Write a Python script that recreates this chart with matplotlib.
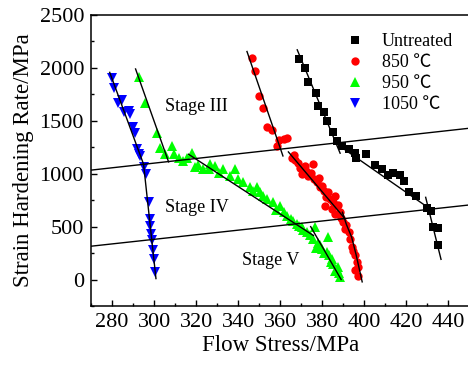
import matplotlib
matplotlib.use("Agg")
import matplotlib.pyplot as plt
from matplotlib.ticker import MultipleLocator

plt.rcParams['font.family'] = ['Liberation Serif', 'Noto Sans CJK SC', 'DejaVu Sans']
plt.rcParams['mathtext.fontset'] = 'stix'

# ---- data (flow stress MPa, strain hardening rate MPa) ----
untreated_x = [369.0, 371.9, 373.4, 377.1, 378.2, 380.6, 382.2, 385.0, 386.9, 389.6,
               392.5, 395.6, 396.1, 400.7, 405.1, 408.3, 411.5, 413.8, 417.0, 419.1,
               421.3, 424.5, 429.7, 431.8, 432.9, 434.9, 434.9]
untreated_y = [2083, 1999, 1864, 1764, 1638, 1582, 1497, 1394, 1309, 1262,
               1238, 1194, 1144, 1184, 1081, 1043, 987, 1006, 987, 933,
               824, 792, 674, 651, 495, 486, 322]

t850_x = [346.5, 348.1, 350.0, 351.8, 353.7, 356.0, 358.4, 361.6, 363.2, 359.5,
          365.6, 368.7, 371.9, 375.8, 370.3, 373.4, 377.4, 379.8, 380.6, 382.9,
          386.1, 381.4, 384.6, 386.1, 388.5, 390.1, 390.9, 392.5, 393.3, 394.1,
          395.6, 396.4, 395.6, 397.1, 367.0, 374.5, 378.5, 383.5, 387.5, 389.0,
          391.5, 394.8, 396.8, 385.0, 366.5, 369.5, 372.5, 376.0, 379.0, 381.8]
t850_y = [2093, 1967, 1732, 1623, 1444, 1413, 1262, 1332, 1341, 1316,
          1153, 1106, 1074, 1090, 996, 980, 918, 886, 839, 824,
          792, 698, 667, 620, 636, 542, 479, 448, 385, 307,
          228, 166, 87, 38, 1130, 1010, 960, 760, 700, 580,
          520, 270, 120, 730, 1180, 1050, 1030, 950, 870, 780]

t950_x = [292.6, 295.8, 301.4, 303.0, 305.3, 308.5, 309.3, 311.7, 315.6, 318.0,
          319.6, 323.5, 326.7, 329.1, 333.0, 338.6, 336.2, 342.5, 345.7, 348.9,
          350.5, 353.7, 356.8, 360.0, 361.6, 363.2, 366.3, 367.9, 370.3, 372.7,
          376.6, 375.8, 379.0, 382.9, 382.2, 384.6, 386.9, 388.5, 388.0, 385.0,
          383.0, 380.0, 378.0, 374.0, 371.0, 369.0, 365.0, 358.0, 352.0, 347.0,
          340.0, 331.0, 326.0, 321.0, 314.0, 387.5, 386.0, 384.0, 381.0, 377.0]
t950_y = [1914, 1670, 1388, 1247, 1184, 1262, 1184, 1153, 1153, 1200,
          1059, 1043, 1090, 1074, 1043, 1043, 980, 918, 871, 871,
          824, 761, 730, 698, 636, 604, 557, 526, 495, 448,
          495, 385, 322, 401, 260, 197, 103, 25, 60, 150,
          230, 290, 350, 420, 470, 510, 570, 660, 790, 840,
          950, 1010, 1040, 1080, 1120, 120, 80, 170, 250, 300]

t1050_x = [280.0, 281.1, 282.7, 284.8, 285.5, 287.9, 288.7, 290.0, 291.1, 291.9,
           292.6, 293.5, 295.4, 296.3, 297.4, 297.9, 298.2, 298.7, 299.0, 299.5,
           300.1, 300.6]
t1050_y = [1905, 1811, 1670, 1701, 1582, 1591, 1560, 1444, 1388, 1231,
           1184, 1168, 1059, 996, 730, 573, 510, 432, 369, 275,
           197, 72]

# fitted stage lines (x pairs, y pairs)
fit_lines_x = [[368.1, 388.5], [387.1, 432.7], [429.2, 436.5],
               [344.2, 361.3], [363.9, 390.9], [389.6, 391.5, 394.0, 396.1, 399.0],
               [291.2, 306.9], [316.4, 375.8], [374.5, 389.0],
               [278.9, 295.0, 300.9]]
fit_lines_y = [[2171, 1194], [1278, 648], [777, 191],
               [2155, 1168], [1206, 573], [636, 520, 400, 235, -22],
               [1990, 1112], [1184, 416], [500, 0],
               [1958, 1090, 9]]

# stage boundary lines
boundary_x = [[270, 450], [270, 450]]
boundary_y = [[1034, 1430], [315, 705]]

stage_labels = ['Stage III', 'Stage IV', 'Stage V']
stage_pos_x = [305.4, 305.4, 341.9]
stage_pos_y = [1632, 683, 182]

fig = plt.figure(figsize=(4.68, 3.65), dpi=100)
ax = fig.add_axes([91 / 468, 59 / 365, (469.4 - 91) / 468, 291 / 365])

ax.plot(untreated_x, untreated_y, 's', color='black', ms=5.2, mew=0, label='Untreated')
ax.plot(t850_x, t850_y, 'o', color='red', ms=6.0, mew=0, label='850 ℃')
ax.plot(t950_x, t950_y, '^', color='#00ff00', ms=6.5, mew=0, label='950 ℃')
ax.plot(t1050_x, t1050_y, 'v', color='blue', ms=6.5, mew=0, label='1050 ℃')

for lx, ly in zip(fit_lines_x, fit_lines_y):
    ax.plot(lx, ly, '-', color='black', lw=1.0)
for lx, ly in zip(boundary_x, boundary_y):
    ax.plot(lx, ly, '-', color='black', lw=1.0)

for s, x, y in zip(stage_labels, stage_pos_x, stage_pos_y):
    ax.text(x, y, s, fontsize=13, ha='left', va='center')

ax.set_xlim(270, 450)
ax.set_ylim(-250, 2500)
ax.xaxis.set_major_locator(MultipleLocator(20))
ax.xaxis.set_minor_locator(MultipleLocator(10))
ax.yaxis.set_major_locator(MultipleLocator(500))
ax.yaxis.set_minor_locator(MultipleLocator(250))
ax.set_xticks(range(280, 441, 20))
ax.tick_params(which='major', direction='in', length=4, width=1, labelsize=16, pad=5)
ax.tick_params(which='minor', direction='in', length=2.5, width=1)
for sp in ax.spines.values():
    sp.set_linewidth(1.1)
ax.spines['right'].set_visible(False)

ax.set_xlabel('Flow Stress/MPa', fontsize=16.5, labelpad=2)
ax.set_ylabel('Strain Hardening Rate/MPa', fontsize=16.5, labelpad=4)

leg = ax.legend(loc='upper left', bbox_to_anchor=(347.8 / 468, 1 - 33.5 / 365),
                bbox_transform=fig.transFigure, frameon=False, fontsize=13,
                handlelength=0.8, handletextpad=1.1, labelspacing=0.22,
                borderpad=0, borderaxespad=0)

fig.savefig('out.png', dpi=100)
